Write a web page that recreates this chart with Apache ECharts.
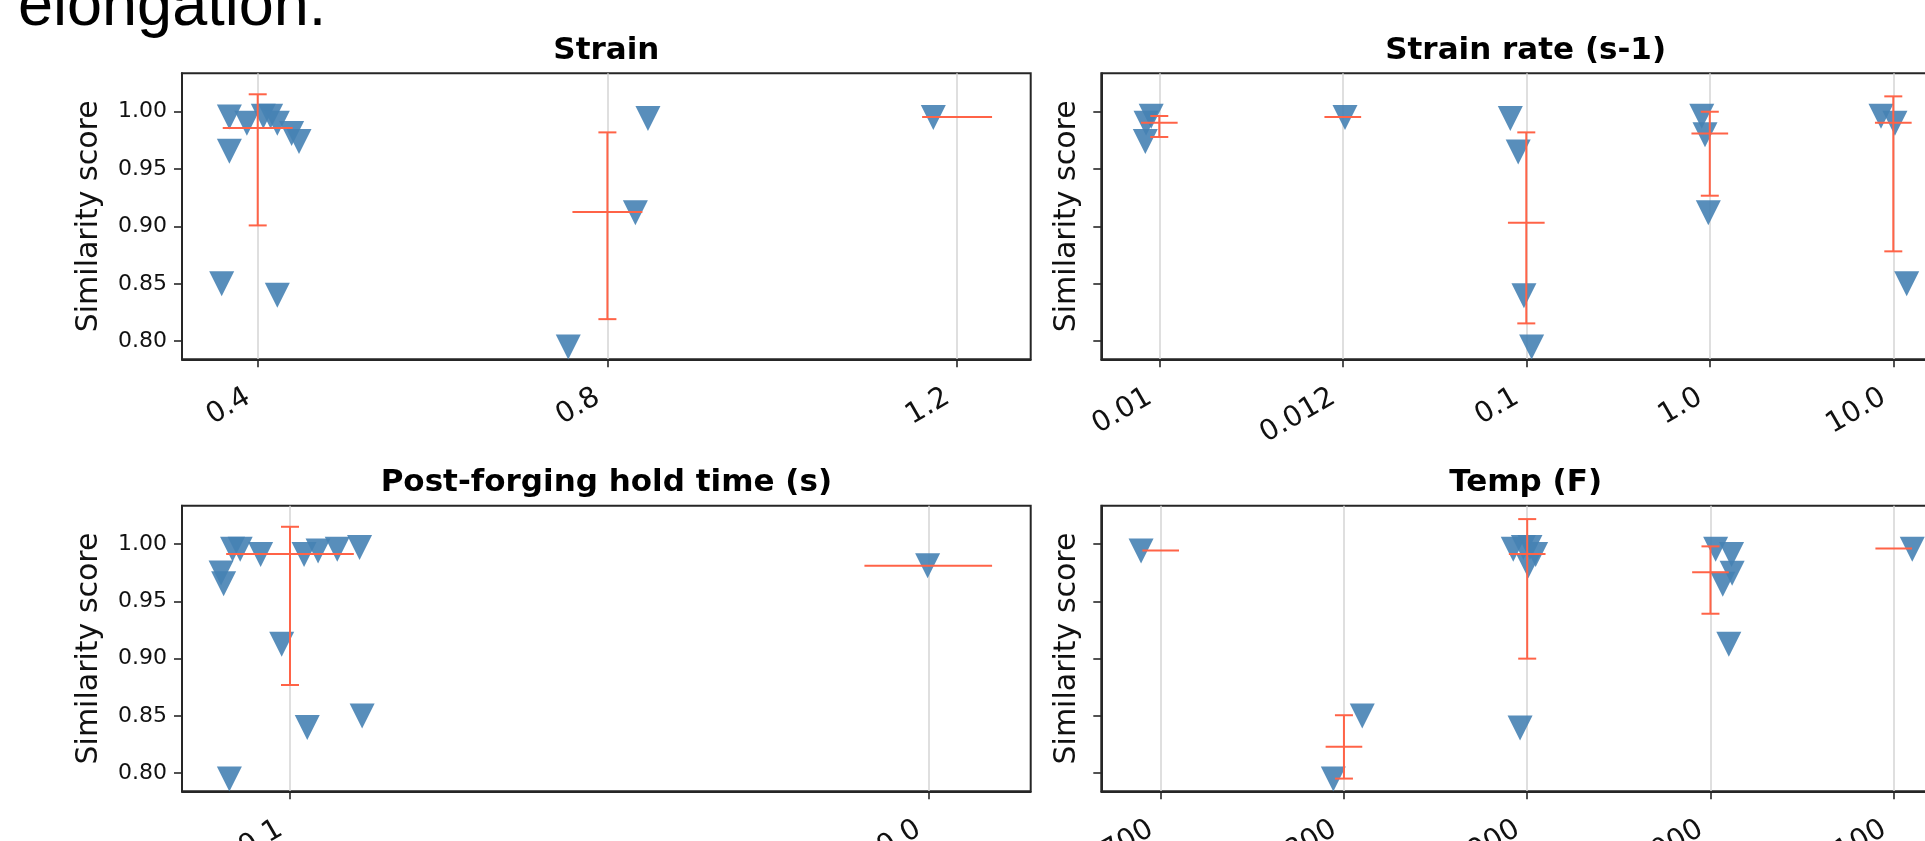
<!DOCTYPE html>
<html>
<head>
<meta charset="utf-8">
<script src="https://cdn.jsdelivr.net/npm/echarts@6/dist/echarts.min.js"></script>
<style>
  html, body { margin: 0; padding: 0; background: #fff; }
  #chart { width: 1925px; height: 841px; }
</style>
</head>
<body>
<div id="chart"></div>
<script>
// tick labels
const yTicks = [0.80, 0.85, 0.90, 0.95, 1.00];
const strainTicks = ['0.4', '0.8', '1.2'];
const rateTicks = ['0.01', '0.012', '0.1', '1.0', '10.0'];
const holdTicks = ['0.1', '10.0'];
const tempTicks = ['700', '800', '900', '1000', '1100'];

// single runs: x = category index + jitter, y = similarity score
const strainX = [-0.081, -0.031, 0.016, 0.037, 0.056, 0.097, 0.118, -0.081, -0.103, 0.056,
                 0.888, 1.080, 1.116, 1.932];
const strainY = [0.9955, 0.990, 0.996, 0.996, 0.990, 0.981, 0.974, 0.9655, 0.850, 0.840,
                 0.795, 0.912, 0.994, 0.995];

const rateX = [-0.044, -0.072, -0.076, 1.012, 1.913, 1.956, 1.987, 2.029,
               2.956, 2.974, 2.992, 3.933, 4.009, 4.073];
const rateY = [0.996, 0.990, 0.974, 0.995, 0.994, 0.965, 0.8395, 0.795,
               0.996, 0.980, 0.912, 0.996, 0.990, 0.850];

const holdX = [-0.108, -0.104, -0.090, -0.078, -0.046, -0.013, -0.095, 0.022, 0.044, 0.074,
               0.109, 0.027, 0.113, 0.999];
const holdY = [0.9747, 0.9654, 0.9955, 0.9955, 0.991, 0.9126, 0.7949, 0.991, 0.994, 0.9955,
               0.997, 0.840, 0.850, 0.981];

const tempX = [-0.107, 0.942, 1.100, 1.924, 1.979, 2.015, 2.046, 2.006, 1.961,
               3.028, 3.115, 3.118, 3.067, 3.100, 4.101];
const tempY = [0.994, 0.7949, 0.850, 0.9955, 0.997, 0.997, 0.991, 0.981, 0.8394,
               0.9955, 0.991, 0.9746, 0.965, 0.9126, 0.9955];

// median line and mean +/- std bar for each category (null: one run only)
const strainMedian = [0.9858, 0.9125, 0.9954];
const strainLow = [0.9009, 0.8192, null];
const strainHigh = [1.0152, 0.982, null];

const rateMedian = [0.9904, 0.9954, 0.9032, 0.981, 0.9904];
const rateLow = [0.978, null, 0.8155, 0.9268, 0.8783];
const rateHigh = [0.9963, null, 0.982, 1.000, 1.0134];

const holdMedian = [0.9913, 0.981];
const holdLow = [0.877, null];
const holdHigh = [1.0151, null];

const tempMedian = [0.9945, 0.823, 0.9913, 0.9753, 0.9962];
const tempLow = [null, 0.7953, 0.900, 0.9392, null];
const tempHigh = [null, 0.8506, 1.0218, 0.998, null];

const FONT = 'DejaVu Sans';
const DARK = '#262626';
const BLUE = '#4682b4';
const RED = '#ff6347';

const panels = [
  { title: 'Strain', ticks: strainTicks, xs: strainX, ys: strainY, med: strainMedian, lo: strainLow, hi: strainHigh,
    grid: { left: 182, top: 73.3, width: 848.7, height: 286 }, min: -0.2165, max: 2.2105 },
  { title: 'Strain rate (s-1)', ticks: rateTicks, xs: rateX, ys: rateY, med: rateMedian, lo: rateLow, hi: rateHigh,
    grid: { left: 1101.3, top: 73.3, width: 848.7, height: 286 }, min: -0.316, max: 4.309 },
  { title: 'Post-forging hold time (s)', ticks: holdTicks, xs: holdX, ys: holdY, med: holdMedian, lo: holdLow, hi: holdHigh,
    grid: { left: 182, top: 505.7, width: 848.7, height: 285.6 }, min: -0.1692, max: 1.1605 },
  { title: 'Temp (F)', ticks: tempTicks, xs: tempX, ys: tempY, med: tempMedian, lo: tempLow, hi: tempHigh,
    grid: { left: 1101.3, top: 505.7, width: 848.7, height: 285.6 }, min: -0.324, max: 4.307 }
];

function seg(x1, y1, x2, y2) {
  return { type: 'line', shape: { x1: x1, y1: y1, x2: x2, y2: y2 }, style: { stroke: RED, lineWidth: 2 } };
}

function statsRenderer(p) {
  return function (params, api) {
    const i = api.value(0);
    const m = api.value(1);
    const a = api.coord([i - 0.1, m]);
    const b = api.coord([i + 0.1, m]);
    const children = [seg(a[0], a[1], b[0], b[1])];
    if (p.lo[i] != null) {
      const lo = api.coord([i, p.lo[i]]);
      const hi = api.coord([i, p.hi[i]]);
      children.push(seg(lo[0], lo[1], hi[0], hi[1]));
      children.push(seg(lo[0] - 9, lo[1], lo[0] + 9, lo[1]));
      children.push(seg(hi[0] - 9, hi[1], hi[0] + 9, hi[1]));
    }
    return { type: 'group', children: children };
  };
}

const grids = [], xAxes = [], yAxes = [], series = [], graphics = [];

panels.forEach(function (p, k) {
  grids.push(Object.assign({
    show: true, borderColor: DARK, borderWidth: 2, backgroundColor: 'transparent',
    containLabel: false, outerBoundsMode: 'none'
  }, p.grid));

  const idx = p.ticks.map(function (t, i) { return i; });
  xAxes.push({
    gridIndex: k, type: 'value', min: p.min, max: p.max,
    axisLine: { show: true, onZero: false, lineStyle: { color: DARK, width: 2 } },
    axisTick: { show: true, length: 8, customValues: idx, lineStyle: { color: DARK, width: 1.6 } },
    axisLabel: {
      customValues: idx, rotate: 30, margin: 30.5, padding: [0, 11, 0, 0],
      fontSize: 28.5, fontFamily: FONT, color: '#111',
      formatter: function (v) { return p.ticks[Math.round(v)]; }
    },
    splitLine: { show: true, lineStyle: { color: '#d4d4d4', width: 1.5 } }
  });

  yAxes.push({
    gridIndex: k, type: 'value', min: 0.7842, max: 1.0335,
    name: 'Similarity score', nameLocation: 'middle', nameRotate: 90,
    nameGap: k % 2 ? 19 : 78, nameMoveOverlap: false,
    nameTextStyle: { fontSize: 30, fontFamily: FONT, color: '#111' },
    axisLine: { show: true, onZero: false, lineStyle: { color: DARK, width: 2 } },
    axisTick: { show: true, length: 8, customValues: yTicks, lineStyle: { color: DARK, width: 1.6 } },
    axisLabel: {
      show: k % 2 === 0, customValues: yTicks, margin: 15, fontSize: 22, fontFamily: FONT, color: '#111',
      formatter: function (v) { return v.toFixed(2); }
    },
    splitLine: { show: false }
  });

  series.push({
    type: 'scatter', xAxisIndex: k, yAxisIndex: k, silent: true, z: 3,
    symbol: 'triangle', symbolRotate: 180, symbolSize: 25,
    itemStyle: { color: BLUE, opacity: 0.9 },
    data: p.xs.map(function (x, i) { return [x, p.ys[i]]; })
  });

  series.push({
    type: 'custom', xAxisIndex: k, yAxisIndex: k, silent: true, z: 4,
    encode: { x: 0, y: 1 },
    renderItem: statsRenderer(p),
    data: p.med.map(function (m, i) { return [i, m]; })
  });

  const cx = p.grid.left + p.grid.width / 2;
  graphics.push({
    type: 'text', x: cx, y: p.grid.top - 22.3,
    style: {
      text: p.title, fontSize: 31, fontWeight: 'bold', fontFamily: FONT, fill: '#000',
      align: 'center', verticalAlign: 'middle', textAlign: 'center', textVerticalAlign: 'middle'
    }
  });
});

graphics.push({
  type: 'text', x: 18, y: 7.5,
  style: {
    text: 'elongation.', fontSize: 63, fontFamily: 'Liberation Sans', fill: '#000',
    align: 'left', verticalAlign: 'middle', textAlign: 'left', textVerticalAlign: 'middle'
  }
});

const chart = echarts.init(document.getElementById('chart'), null, { renderer: 'canvas' });
chart.setOption({
  animation: false,
  backgroundColor: '#fff',
  grid: grids,
  xAxis: xAxes,
  yAxis: yAxes,
  series: series,
  graphic: graphics
});
</script>
</body>
</html>
